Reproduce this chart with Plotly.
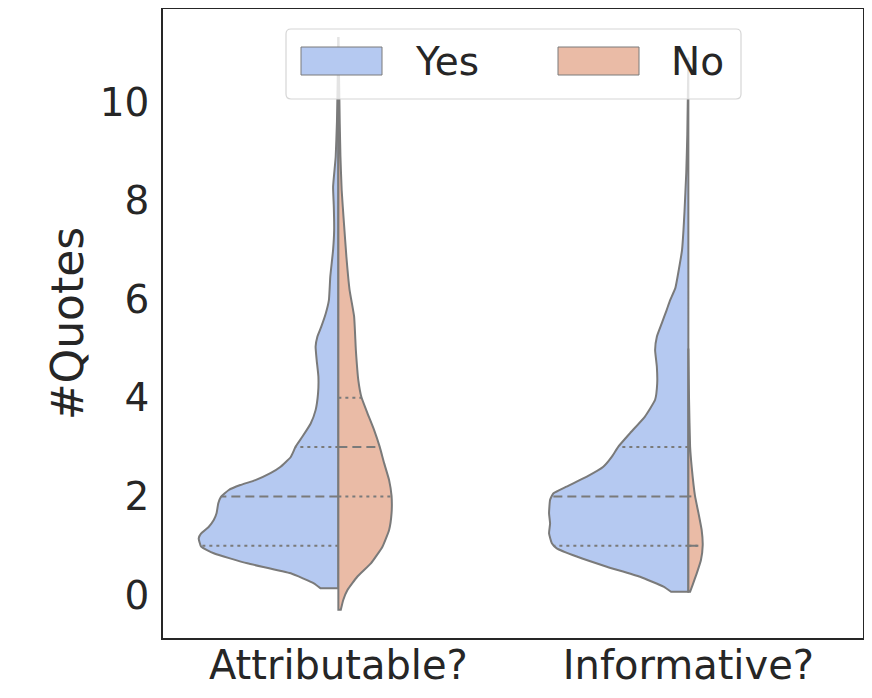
import numpy as np
import plotly.graph_objects as go

# ---------------- data ----------------
categories = ["Attributable?", "Informative?"]
groups = ["Yes", "No"]

# density profiles: value grid (#Quotes) and half-width (in category units)
attr_yes_vals = [0.135, 0.237, 0.44, 0.643, 0.846, 0.98, 1.15, 1.25, 1.385, 1.52, 1.657, 1.86, 1.994,
                 2.13, 2.23, 2.33, 2.47, 2.60, 2.80, 3.01, 3.21, 3.48, 3.75, 4.09, 4.43, 4.77, 5.04,
                 5.24, 5.44, 5.71, 5.98, 6.46, 7.0, 7.40, 7.88, 8.28, 8.89, 9.6, 10.4, 11.32]
attr_yes_width = [0.0506, 0.070, 0.136, 0.260, 0.356, 0.392, 0.399, 0.392, 0.370, 0.356, 0.348, 0.343,
                  0.335, 0.313, 0.280, 0.237, 0.194, 0.165, 0.136, 0.122, 0.103, 0.079, 0.065, 0.058,
                  0.057, 0.062, 0.065, 0.060, 0.049, 0.036, 0.027, 0.023, 0.015, 0.012, 0.013, 0.015,
                  0.0076, 0.004, 0.002, 0.0]

attr_no_vals = [-0.30, -0.10, 0.10, 0.37, 0.64, 0.98, 1.32, 1.66, 2.01, 2.33, 2.67, 3.01, 3.35, 3.69,
                4.01, 4.36, 4.97, 5.65, 6.19, 6.86, 7.54, 8.21, 8.89, 9.57, 10.5, 11.32]
attr_no_width = [0.007, 0.014, 0.026, 0.054, 0.093, 0.126, 0.145, 0.152, 0.152, 0.145, 0.131, 0.118,
                 0.102, 0.083, 0.066, 0.057, 0.050, 0.045, 0.032, 0.023, 0.016, 0.0095, 0.006, 0.004,
                 0.002, 0.0]

inf_yes_vals = [0.067, 0.17, 0.37, 0.574, 0.78, 0.947, 1.05, 1.25, 1.45, 1.66, 1.93, 2.06, 2.20, 2.40,
                2.60, 2.80, 3.01, 3.28, 3.62, 3.96, 4.29, 4.63, 4.97, 5.24, 5.51, 5.78, 5.98, 6.23,
                6.61, 7.0, 7.39, 7.78, 8.56, 9.34, 10.9]
inf_yes_width = [0.0495, 0.071, 0.138, 0.233, 0.319, 0.376, 0.390, 0.398, 0.395, 0.398, 0.395, 0.386,
                 0.348, 0.290, 0.243, 0.219, 0.200, 0.167, 0.124, 0.095, 0.089, 0.090, 0.095, 0.090,
                 0.076, 0.062, 0.052, 0.037, 0.027, 0.018, 0.014, 0.011, 0.006, 0.003, 0.0]

inf_no_vals = [0.067, 0.20, 0.44, 0.71, 1.01, 1.32, 1.66, 2.01, 2.60, 3.01, 3.96, 5.0]
inf_no_width = [0.005, 0.012, 0.024, 0.036, 0.041, 0.038, 0.029, 0.019, 0.0095, 0.005, 0.002, 0.0]

# quartiles (Q1, median, Q3)
attr_yes_quart = [1, 2, 3]
attr_no_quart = [2, 3, 4]
inf_yes_quart = [1, 2, 3]
inf_no_quart = [1, 1, 2]

y_ticks = [0, 2, 4, 6, 8, 10]

# ---------------- style ----------------
YES_COLOR = "#b5c9f1"
NO_COLOR = "#eabba6"
EDGE = "#7a7a7a"
TEXT = "#262626"
FONT = "DejaVu Sans"

fig = go.Figure()

halves = [
    (0, -1, attr_yes_vals, attr_yes_width, attr_yes_quart, YES_COLOR),
    (0, 1, attr_no_vals, attr_no_width, attr_no_quart, NO_COLOR),
    (1, -1, inf_yes_vals, inf_yes_width, inf_yes_quart, YES_COLOR),
    (1, 1, inf_no_vals, inf_no_width, inf_no_quart, NO_COLOR),
]

for center, side, vals, widths, quart, color in halves:
    vals = np.asarray(vals, float)
    widths = np.asarray(widths, float)
    edge_x = center + side * widths
    # corner points are repeated so the spline keeps them sharp
    xs = np.concatenate([[center, center, edge_x[0]], edge_x, [center, center, center, center]])
    ys = np.concatenate([[vals[0], vals[0], vals[0]], vals, [vals[-1], vals[-1], vals[0], vals[0]]])
    fig.add_trace(go.Scatter(
        x=xs, y=ys, mode="lines", fill="toself", fillcolor=color,
        line=dict(color=EDGE, width=2, shape="spline", smoothing=0.4),
        hoverinfo="skip", showlegend=False))
    for i, q in enumerate(quart):
        w = float(np.interp(q, vals, widths))
        fig.add_trace(go.Scatter(
            x=[center, center + side * w], y=[q, q], mode="lines",
            line=dict(color=EDGE, width=2,
                      dash="9px,5px" if i == 1 else "3px,4px"),
            hoverinfo="skip", showlegend=False))

# ---------------- manual legend (paper coords) ----------------
# the page is offset by the 8px body margin; plot area spans page x 163..863, y 8..638
def px_x(p):
    return (p - 163) / 700.0

def px_y(p):
    return (638 - p) / 629.0

x0, x1, y0, y1 = px_x(286), px_x(741), px_y(99), px_y(29)
rx, ry = 5 / 700.0, 5 / 629.0
path = (f"M {x0+rx},{y0} L {x1-rx},{y0} Q {x1},{y0} {x1},{y0+ry} L {x1},{y1-ry} "
        f"Q {x1},{y1} {x1-rx},{y1} L {x0+rx},{y1} Q {x0},{y1} {x0},{y1-ry} L {x0},{y0+ry} "
        f"Q {x0},{y0} {x0+rx},{y0} Z")
shapes = [dict(type="path", path=path, xref="paper", yref="paper", layer="above",
               fillcolor="rgba(255,255,255,0.8)", line=dict(color="#d6d6d6", width=1.2))]
annotations = []
legend_items = [(groups[0], YES_COLOR, 301, 382, 413), (groups[1], NO_COLOR, 558, 639, 669)]
for label, col, a, b, tx in legend_items:
    shapes.append(dict(type="rect", xref="paper", yref="paper", layer="above",
                       x0=px_x(a), x1=px_x(b), y0=px_y(75), y1=px_y(47),
                       fillcolor=col, line=dict(color=EDGE, width=1)))
    annotations.append(dict(text=label, xref="paper", yref="paper", x=px_x(tx), y=px_y(62),
                            xanchor="left", yanchor="middle", showarrow=False,
                            font=dict(family=FONT, size=39, color=TEXT)))

fig.update_layout(
    width=864, height=690,
    margin=dict(l=155, r=9, t=1, b=60),
    paper_bgcolor="white", plot_bgcolor="white",
    font=dict(family=FONT, color=TEXT, size=38),
    showlegend=False,
    shapes=shapes, annotations=annotations,
    xaxis=dict(range=[-0.501, 1.499], tickvals=[0, 1], ticktext=categories, automargin=False,
               showgrid=False, zeroline=False, showline=True, mirror=True,
               linecolor=TEXT, linewidth=1.5, ticks="", ticklabelstandoff=-9,
               tickfont=dict(family=FONT, size=40, color=TEXT)),
    yaxis=dict(range=[-0.872, 11.886], tickvals=y_ticks, automargin=False,
               showgrid=False, zeroline=False, showline=True, mirror=True,
               linecolor=TEXT, linewidth=1.5, ticks="", ticklabelstandoff=4,
               tickfont=dict(family=FONT, size=39, color=TEXT),
               title=dict(text="#Quotes", standoff=2,
                          font=dict(family=FONT, size=44, color=TEXT))),
)

fig.write_html("out.html")
